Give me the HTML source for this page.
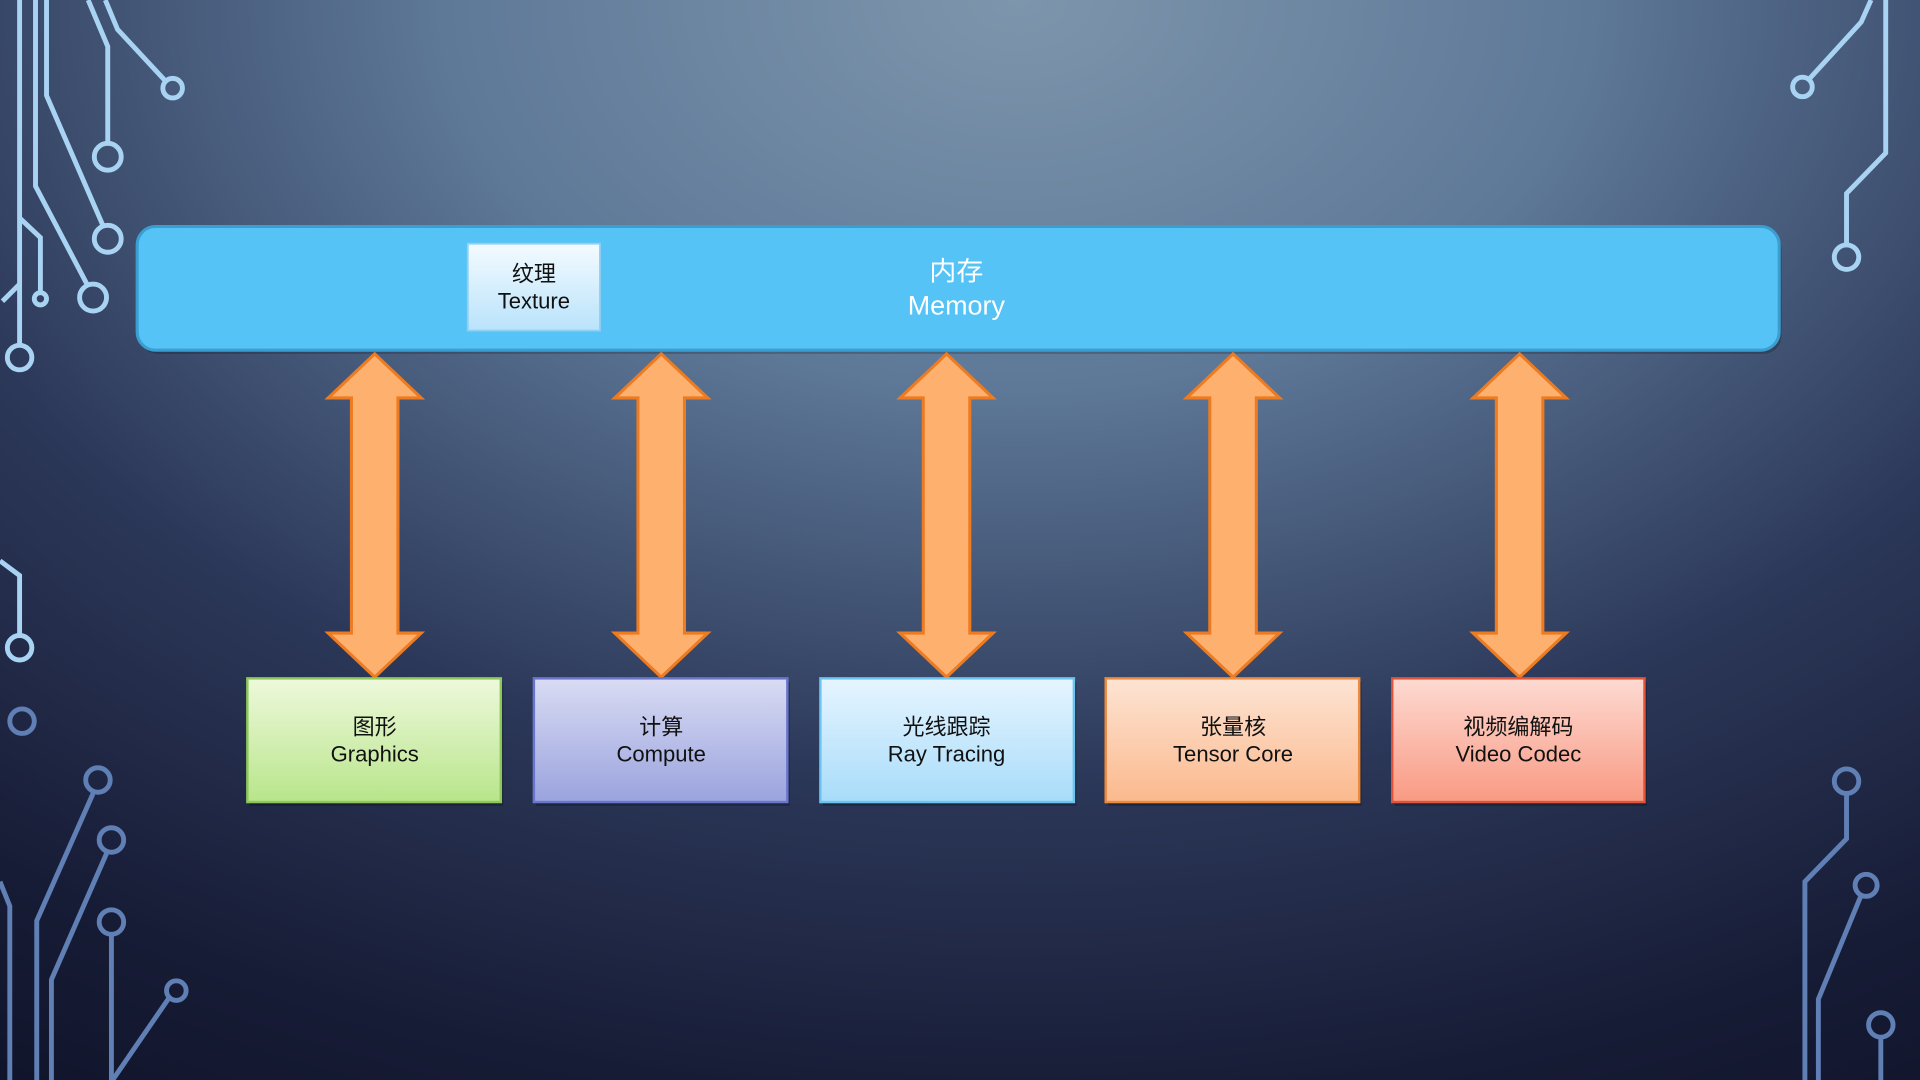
<!DOCTYPE html>
<html><head><meta charset="utf-8"><style>
html,body{margin:0;padding:0;width:1920px;height:1080px;overflow:hidden;background:#2a3a5a}
svg{display:block}
text{font-family:"Liberation Sans","Noto Sans CJK SC",sans-serif;text-anchor:middle;fill:#111}
</style></head><body>
<svg width="1920" height="1080" viewBox="0 0 1568 882" preserveAspectRatio="none" xmlns="http://www.w3.org/2000/svg">
<defs>
<radialGradient id="bg" cx="0.53" cy="0.0" r="1.0" gradientTransform="translate(0.53 0) scale(1 1.2) translate(-0.53 0)">
<stop offset="0" stop-color="#7e96ac"/><stop offset="0.3" stop-color="#5e7898"/><stop offset="0.6" stop-color="#2c3859"/><stop offset="0.85" stop-color="#171c36"/><stop offset="1" stop-color="#10142a"/></radialGradient>
<linearGradient id="tex" x1="0" y1="0" x2="0" y2="1"><stop offset="0" stop-color="#f4fbff"/><stop offset="1" stop-color="#b9e3fb"/></linearGradient>
<linearGradient id="g1" x1="0" y1="0" x2="0" y2="1"><stop offset="0" stop-color="#eef9dc"/><stop offset="1" stop-color="#b8e58a"/></linearGradient>
<linearGradient id="g2" x1="0" y1="0" x2="0" y2="1"><stop offset="0" stop-color="#d9dcf3"/><stop offset="1" stop-color="#9aa3de"/></linearGradient>
<linearGradient id="g3" x1="0" y1="0" x2="0" y2="1"><stop offset="0" stop-color="#e6f5ff"/><stop offset="1" stop-color="#a8dcfa"/></linearGradient>
<linearGradient id="g4" x1="0" y1="0" x2="0" y2="1"><stop offset="0" stop-color="#fde4d4"/><stop offset="1" stop-color="#fbb98d"/></linearGradient>
<linearGradient id="g5" x1="0" y1="0" x2="0" y2="1"><stop offset="0" stop-color="#fddad2"/><stop offset="1" stop-color="#f99a83"/></linearGradient>
<path id="arr" d="M0,0 L38,36 L19,36 L19,228 L38,228 L0,264 L-38,228 L-19,228 L-19,36 L-38,36 Z" fill="#feb06f" stroke="#ec7b22" stroke-width="2.5" stroke-linejoin="miter"/>
</defs>
<rect width="1568" height="882" fill="url(#bg)"/>
<g fill="none" stroke="#a9d3f3" stroke-width="4">
<path d="M16,0 V281"/><circle cx="16" cy="292" r="10"/>
<path d="M29,0 V152 L71,232"/><circle cx="76" cy="243" r="11"/>
<path d="M38,0 V78 L84,184"/><circle cx="88" cy="195" r="11"/>
<path d="M72,0 L88,38 V117"/><circle cx="88" cy="128" r="11"/>
<path d="M86,0 L96,24 L135,66"/><circle cx="141" cy="72" r="8"/>
<path d="M16,178 L33,194 V238"/><circle cx="33" cy="244" r="5"/>
<path d="M2,246 L16,232"/>
<path d="M0,458 L16,470 V518"/><circle cx="16" cy="529" r="10"/>
<path d="M1528,0 L1520,18 L1478,64"/><circle cx="1472" cy="71" r="8"/>
<path d="M1540,0 V125 L1508,158 V200"/><circle cx="1508" cy="210" r="10"/>
</g>
<g fill="none" stroke="#5f7fb5" stroke-width="4">
<circle cx="18" cy="589" r="10"/>
<path d="M0,720 L8,740 V882"/>
<path d="M76,648 L30,752 V882"/><circle cx="80" cy="637" r="10"/>
<path d="M87,697 L42,800 V882"/><circle cx="91" cy="686" r="10"/>
<path d="M91,764 V882"/><circle cx="91" cy="753" r="10"/>
<path d="M138,815 L92,882"/><circle cx="144" cy="809" r="8"/>
<path d="M1508,648 V685 L1474,720 V882"/><circle cx="1508" cy="638" r="10"/>
<path d="M1520,731 L1485,816 V882"/><circle cx="1524" cy="723" r="9"/>
<path d="M1536,847 V882"/><circle cx="1536" cy="837" r="10"/>
</g>
<rect x="114" y="188" width="1341" height="101" rx="15" fill="#000" opacity="0.2"/>
<rect x="112" y="185" width="1341" height="101" rx="15" fill="#55c3f5" stroke="#3b9ed0" stroke-width="2.5"/>
<rect x="382" y="199" width="108" height="71" fill="url(#tex)" stroke="#8fcff3" stroke-width="1.5"/>
<text x="436" y="230" font-size="18">纹理</text>
<text x="436" y="252" font-size="18">Texture</text>
<text x="781" y="229" font-size="22" style="fill:#fff">内存</text>
<text x="781" y="257" font-size="22" style="fill:#fff">Memory</text>
<use href="#arr" x="306" y="289"/>
<use href="#arr" x="540" y="289"/>
<use href="#arr" x="773" y="289"/>
<use href="#arr" x="1007" y="289"/>
<use href="#arr" x="1241" y="289"/>
<g fill="#000" opacity="0.25">
<rect x="204" y="557" width="207" height="101"/><rect x="438" y="557" width="207" height="101"/><rect x="672" y="557" width="207" height="101"/><rect x="905" y="557" width="207" height="101"/><rect x="1139" y="557" width="206" height="101"/>
</g>
<rect x="202" y="554" width="207" height="101" fill="url(#g1)" stroke="#8cc85a" stroke-width="2"/>
<rect x="436" y="554" width="207" height="101" fill="url(#g2)" stroke="#6a76cc" stroke-width="2"/>
<rect x="670" y="554" width="207" height="101" fill="url(#g3)" stroke="#6cc4f0" stroke-width="2"/>
<rect x="903" y="554" width="207" height="101" fill="url(#g4)" stroke="#ec8a3e" stroke-width="2"/>
<rect x="1137" y="554" width="206" height="101" fill="url(#g5)" stroke="#e0553a" stroke-width="2"/>
<g font-size="18">
<text x="306" y="600">图形</text><text x="306" y="622">Graphics</text>
<text x="540" y="600">计算</text><text x="540" y="622">Compute</text>
<text x="773" y="600">光线跟踪</text><text x="773" y="622">Ray Tracing</text>
<text x="1007" y="600">张量核</text><text x="1007" y="622">Tensor Core</text>
<text x="1240" y="600">视频编解码</text><text x="1240" y="622">Video Codec</text>
</g>
</svg>
</body></html>
